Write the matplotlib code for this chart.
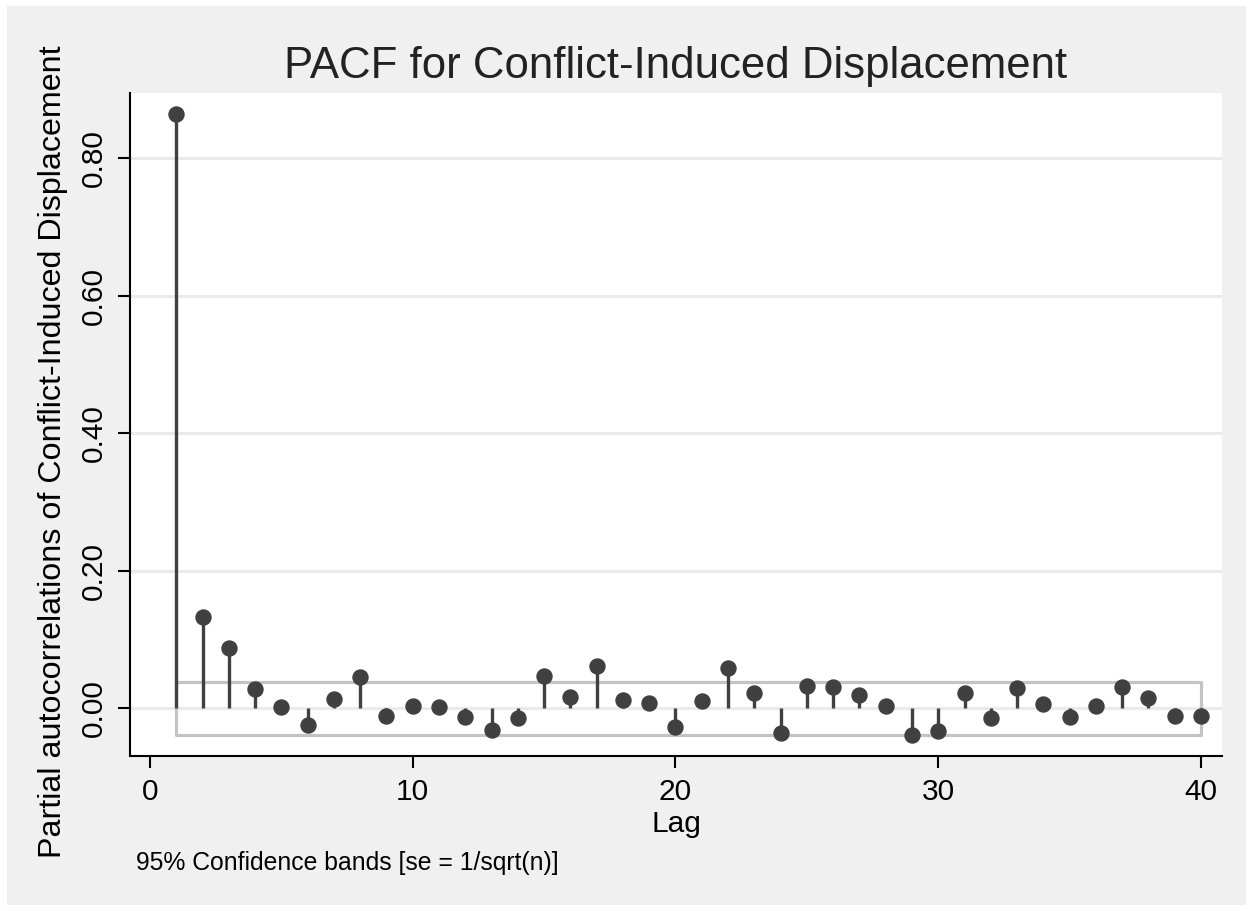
import matplotlib
matplotlib.use("Agg")
import matplotlib.pyplot as plt
from matplotlib.patches import Rectangle
import numpy as np

plt.rcParams['font.family'] = ['Liberation Sans', 'DejaVu Sans']

lags = list(range(1, 41))
pacf = [0.864, 0.133, 0.087, 0.028, 0.002, -0.024, 0.013, 0.045, -0.011, 0.003,
        0.002, -0.013, -0.032, -0.014, 0.047, 0.016, 0.0615, 0.012, 0.008, -0.027,
        0.011, 0.059, 0.023, -0.0355, 0.033, 0.031, 0.020, 0.004, -0.039, -0.033,
        0.022, -0.0145, 0.0295, 0.006, -0.013, 0.003, 0.031, 0.015, -0.011, -0.0115]
band = 0.039
yticks = [0.0, 0.2, 0.4, 0.6, 0.8]
ytick_labels = ["0.00", "0.20", "0.40", "0.60", "0.80"]
xticks = [0, 10, 20, 30, 40]

W, H = 1253, 911
fig = plt.figure(figsize=(W/100, H/100), dpi=100, facecolor='white')
bg = Rectangle((7/W, 6/H), (1246-7)/W, (905-6)/H, transform=fig.transFigure,
               facecolor='#f0f0f0', edgecolor='none', zorder=-10)
fig.add_artist(bg)

ax = fig.add_axes([130/W, 1-756/H, (1222-130)/W, (756-93)/H])
ax.set_facecolor('white')

for y in yticks:
    ax.axhline(y, color='#eaeaea', lw=2.2, zorder=1)

lx = np.array(lags)
ax.fill_between(lx, -band, band, facecolor='none', edgecolor='#c4c4c4', lw=2.3, zorder=2)

ax.vlines(lags, 0, pacf, color='#404040', lw=2.4, zorder=3)
ax.plot(lags, pacf, 'o', color='#404040', ms=10.8, zorder=4)

ax.set_xlim(-0.76, 40.8)
ax.set_ylim(-0.0693, 0.8945)
ax.set_yticks(yticks)
ax.set_yticklabels(ytick_labels, rotation=90, va='center')
ax.set_xticks(xticks)

for s in ['top', 'right']:
    ax.spines[s].set_visible(False)
for s in ['left', 'bottom']:
    ax.spines[s].set_linewidth(1.5)
    ax.spines[s].set_color('black')
ax.tick_params(axis='both', direction='out', length=8.5, width=1.5, labelsize=21.5,
               colors='black', pad=7.5)

ax.set_xlabel('Lag', fontsize=21.5, labelpad=3)
ax.set_ylabel('Partial autocorrelations of Conflict-Induced Displacement', fontsize=23.2)
ax.yaxis.set_label_coords(-0.057, 0.4593)
ax.set_title('PACF for Conflict-Induced Displacement', fontsize=31.5, color='#222222', pad=11)
fig.text(136/W, 1-863/H, '95% Confidence bands [se = 1/sqrt(n)]', fontsize=17.8, va='center', ha='left')

fig.savefig('out.png', dpi=100, facecolor=fig.get_facecolor())
